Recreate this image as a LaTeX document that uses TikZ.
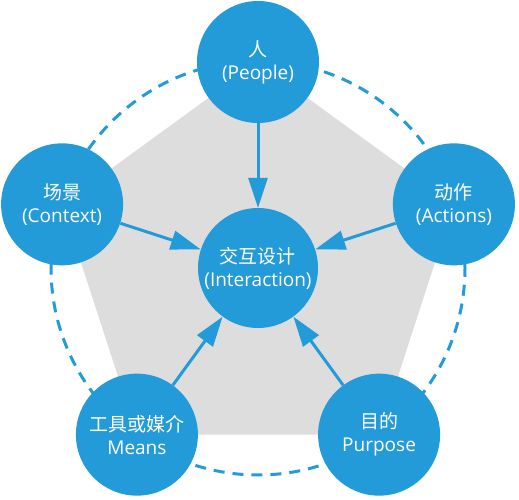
\documentclass[tikz,border=0pt]{standalone}
\usepackage{fontspec}
\setmainfont{Open Sans}
\newfontfamily\cjk{Noto Sans CJK SC}
\usetikzlibrary{arrows.meta}
\definecolor{ixblue}{HTML}{249BD9}
\definecolor{ixgray}{HTML}{DDDDDD}
\begin{document}
\begin{tikzpicture}[
		every node/.style = {shape=circle, fill=ixblue, text=white, align=center, inner sep=0pt,
			font=\fontsize{19}{23}\selectfont},
		outer/.style = {minimum size=122pt},
		hub/.style = {minimum size=120pt},
		ring/.style = {draw=ixblue, line width=3pt, dash pattern=on 11pt off 8pt},
		link/.style = {draw=ixblue, line width=3pt, -{Triangle[length=30pt,width=19pt]}}]
		\useasboundingbox (-258pt,-232pt) rectangle (261pt,268pt);
		\fill[ixgray] (90:206pt) -- (162:206pt) -- (234:206pt) -- (306:206pt) -- (18:206pt) -- cycle;
		\draw[ring] (0,0) circle (207pt);
		\node[hub] (mid) at (0,0) {{\cjk 交互设计}\\(Interaction)};
		\node[outer] (people) at (90:206pt) {{\cjk 人}\\(People)};
		\node[outer] (context) at (162:206pt) {{\cjk 场景}\\(Context)};
		\node[outer] (means) at (234:206pt) {{\cjk 工具或媒介}\\Means};
		\node[outer] (purpose) at (306:206pt) {{\cjk 目的}\\Purpose};
		\node[outer] (actions) at (18:206pt) {{\cjk 动作}\\(Actions)};
		\foreach \src in {people,context,means,purpose,actions}
			\draw[link] (\src) -- (mid);
	\end{tikzpicture}
\end{document}
